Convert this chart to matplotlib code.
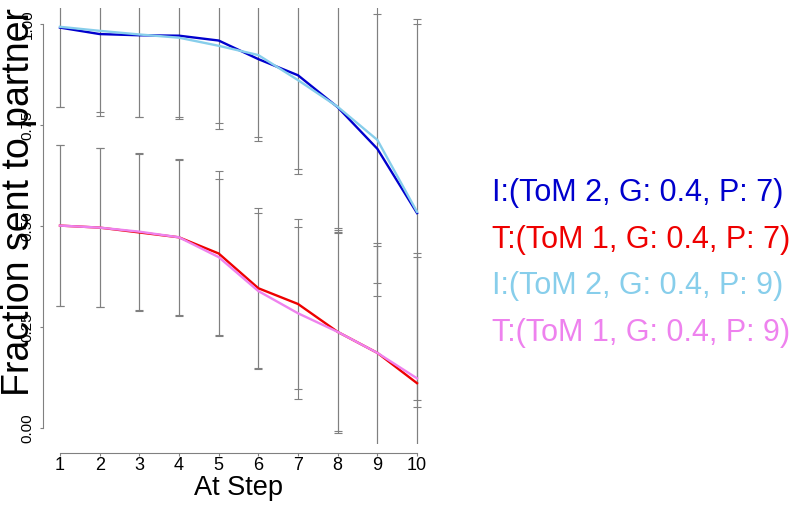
import numpy as np
import matplotlib
matplotlib.use("Agg")
import matplotlib.pyplot as plt

# data
steps = np.arange(1, 11)

labels = ["I:(ToM 2, G: 0.4, P: 7)", "T:(ToM 1, G: 0.4, P: 7)",
          "I:(ToM 2, G: 0.4, P: 9)", "T:(ToM 1, G: 0.4, P: 9)"]
colors = ["#0000CD", "#EE0000", "#87CEEB", "#EE82EE"]

i_p7 = [0.991, 0.975, 0.972, 0.971, 0.959, 0.913, 0.873, 0.794, 0.691, 0.532]
t_p7 = [0.501, 0.496, 0.484, 0.472, 0.432, 0.346, 0.307, 0.238, 0.186, 0.111]
i_p9 = [0.993, 0.983, 0.974, 0.966, 0.946, 0.923, 0.861, 0.795, 0.713, 0.535]
t_p9 = [0.501, 0.496, 0.486, 0.472, 0.423, 0.339, 0.284, 0.238, 0.186, 0.123]

i_p7_sd = [0.196, 0.203, 0.203, 0.206, 0.205, 0.193, 0.231, 0.300, 0.333, 0.480]
t_p7_sd = [0.199, 0.197, 0.195, 0.194, 0.205, 0.198, 0.210, 0.245, 0.273, 0.313]
i_p9_sd = [0.198, 0.200, 0.205, 0.197, 0.207, 0.213, 0.232, 0.310, 0.385, 0.466]
t_p9_sd = [0.199, 0.197, 0.194, 0.192, 0.193, 0.192, 0.213, 0.251, 0.265, 0.309]

means = [i_p7, t_p7, i_p9, t_p9]
sds = [i_p7_sd, t_p7_sd, i_p9_sd, t_p9_sd]

font = ["Liberation Sans", "DejaVu Sans"]

W, H = 800, 507
fig = plt.figure(figsize=(W / 100, H / 100), dpi=100)
# plot region in pixels: x 45.7..431.3, y 7.8..444.2 (from top)
ax = fig.add_axes([45.7 / W, 1 - 444.2 / H, (431.3 - 45.7) / W, (444.2 - 7.8) / H])

for m, s in zip(means, sds):
    ax.errorbar(steps, m, yerr=s, fmt="none", ecolor="#808080",
                elinewidth=0.8, capsize=2.9, capthick=0.8)
for m, c in zip(means, colors):
    ax.plot(steps, m, color=c, lw=1.7)

ax.set_xlim(0.64, 10.36)
ax.set_ylim(-0.04, 1.04)

for side in ["top", "right"]:
    ax.spines[side].set_visible(False)
ax.spines["left"].set_bounds(0, 1)
ax.spines["bottom"].set_bounds(1, 10)
ax.spines["left"].set_position(("outward", 1.8))
ax.spines["bottom"].set_position(("outward", 6.1))
for side in ["left", "bottom"]:
    ax.spines[side].set_color("#808080")
    ax.spines[side].set_linewidth(0.8)

ax.set_xticks(steps)
ax.set_xticklabels([str(s) for s in steps], family=font, fontsize=13)
ax.set_yticks([0, 0.25, 0.5, 0.75, 1.0])
ax.set_yticklabels(["0.00", "0.25", "0.50", "0.75", "1.00"], family=font,
                   fontsize=11, rotation=90, va="center")
ax.tick_params(axis="both", color="#808080", length=2.2, width=0.8)
ax.tick_params(axis="x", pad=1)
ax.tick_params(axis="y", pad=4)

# y label anchored on its baseline, as in the reference
fig.text(29 / W, 1 - 202 / H, "Fraction sent to partner", rotation=90,
         rotation_mode="anchor", ha="center", va="baseline",
         family=font, fontsize=27)
fig.text(238 / W, 1 - 495 / H, "At Step", ha="center", va="baseline",
         family=font, fontsize=19.5)

for k, (lab, c) in enumerate(zip(labels, colors)):
    fig.text(492 / W, 1 - (201 + k * 46.7) / H, lab, color=c,
             ha="left", va="baseline", family=font, fontsize=22)

fig.savefig("out.png", dpi=100)
